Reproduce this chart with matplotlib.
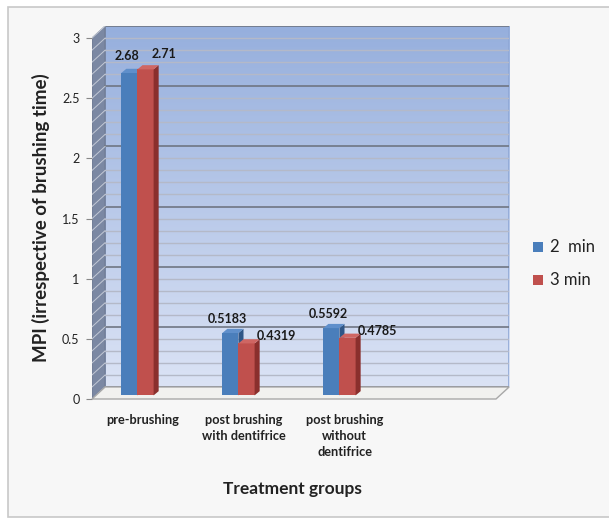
import numpy as np
import matplotlib
matplotlib.use("Agg")
import matplotlib.pyplot as plt
from matplotlib.patches import Polygon, Rectangle
from matplotlib.colors import LinearSegmentedColormap

plt.rcParams['font.family'] = ['Lato', 'DejaVu Sans']

# Data
categories = ["pre-brushing", "post brushing\nwith dentifrice", "post brushing\nwithout\ndentifrice"]
series_names = ["2  min", "3 min"]
values_2min = [2.68, 0.5183, 0.5592]
values_3min = [2.71, 0.4319, 0.4785]
value_labels_2min = ["2.68", "0.5183", "0.5592"]
value_labels_3min = ["2.71", "0.4319", "0.4785"]
yticks = [0, 0.5, 1, 1.5, 2, 2.5, 3]
yticklabels = ["0", "0.5", "1", "1.5", "2", "2.5", "3"]

# 3D look: offset of the back wall in data units
DX, DY = 0.13, 0.1
X0, X1 = -0.5, 3.5      # 4 category slots, last one empty
YMAX = 3.0

fig = plt.figure(figsize=(6.09, 5.19), dpi=100)
fig.patch.set_facecolor('white')

# outer frame of the chart area
fig.patches.append(Rectangle((8 / 609, 2 / 519), 610 / 609, 510 / 519, transform=fig.transFigure,
                             facecolor='#f7f7f7', edgecolor='#c8c8c8', linewidth=1.2, zorder=-10))

W, H = 609, 519
left_px, right_px = 92, 92 + (X1 + DX - X0) * 101
bot_px, top_px = 399, 399 - (YMAX + DY) * 120.3
ax = fig.add_axes([left_px / W, (H - bot_px) / H, (right_px - left_px) / W, (bot_px - top_px) / H])
ax.patch.set_visible(False)
for s in ax.spines.values():
    s.set_visible(False)

# back wall gradient
cmap = LinearSegmentedColormap.from_list('wall', ['#dbe3f5', '#96afdd'])
grad = np.linspace(0, 1, 256).reshape(-1, 1)
ax.imshow(grad, extent=(X0 + DX, X1 + DX, DY, YMAX + DY), origin='lower', aspect='auto',
          cmap=cmap, zorder=0)
ax.set_xlim(X0, X1 + DX)
ax.set_ylim(0, YMAX + DY)
ax.add_patch(Rectangle((X0 + DX, DY), X1 - X0, YMAX, facecolor='none', edgecolor='#8fa8d6',
                       linewidth=1.2, zorder=1))

# side wall
ax.add_patch(Polygon([(X0, 0), (X0, YMAX), (X0 + DX, YMAX + DY), (X0 + DX, DY)],
                     closed=True, facecolor='#7b88a3', edgecolor='#6d7890', linewidth=0.8, zorder=1))

# gridlines on back and side wall
for g in np.arange(0, YMAX + 0.001, 0.1):
    major = abs(g / 0.5 - round(g / 0.5)) < 1e-6
    col = '#6f7683' if major else '#b4b9c8'
    lw = 1.2 if major else 1.0
    ax.plot([X0 + DX, X1 + DX], [g + DY, g + DY], color=col, linewidth=lw, zorder=2)
    ax.plot([X0, X0 + DX], [g, g + DY], color='#c3c9d6', linewidth=0.7, zorder=2)

# floor
ax.add_patch(Polygon([(X0, 0), (X1, 0), (X1 + DX, DY), (X0 + DX, DY)], closed=True,
                     facecolor='#f1f1ef', edgecolor='#a8a8a8', linewidth=1.0, zorder=2,
                     clip_on=False))

# 3D bars
bw, bdx, bdy, base = 0.16, 0.05, 0.035, 0.03


def bar3d(xl, h, front, side, top):
    ax.add_patch(Rectangle((xl, base), bw, h, facecolor=front, edgecolor='none', zorder=5))
    ax.add_patch(Polygon([(xl + bw, base), (xl + bw + bdx, base + bdy), (xl + bw + bdx, base + h + bdy),
                          (xl + bw, base + h)], closed=True, facecolor=side, edgecolor='none', zorder=5))
    ax.add_patch(Polygon([(xl, base + h), (xl + bw, base + h), (xl + bw + bdx, base + h + bdy),
                          (xl + bdx, base + h + bdy)], closed=True, facecolor=top, edgecolor='none',
                         zorder=5))


x = np.arange(len(categories))
for i in range(len(categories)):
    bar3d(x[i] - 0.21, values_2min[i], '#4a7ebb', '#2f5687', '#5f8fcb')
    bar3d(x[i] - 0.05, values_3min[i], '#c0504d', '#8a2f2d', '#cf6663')

# value labels
lab_kw = dict(fontsize=9, fontweight='bold', color='#1a1a1a', zorder=6)
ax.text(x[0] - 0.15, values_2min[0] + 0.12, value_labels_2min[0], ha='center', va='bottom', **lab_kw)
ax.text(x[0] + 0.21, values_3min[0] + 0.11, value_labels_3min[0], ha='center', va='bottom', **lab_kw)
for i in (1, 2):
    ax.text(x[i] - 0.16, values_2min[i] + 0.1, value_labels_2min[i], ha='center', va='bottom', **lab_kw)
    ax.text(x[i] + 0.13, values_3min[i] + 0.09, value_labels_3min[i], ha='left', va='center', **lab_kw)

# axes ticks
ax.set_yticks(yticks)
ax.set_yticklabels(yticklabels, fontsize=9, color='#222222')
ax.tick_params(axis='y', direction='out', length=4.5, width=0.8, color='#888888', pad=4.5)
ax.set_xticks(x)
ax.set_xticklabels(categories, fontsize=9.2, fontweight='bold', color='#222222', linespacing=1.4)
ax.tick_params(axis='x', length=0, pad=11)

fig.text(41 / W, 1 - 218 / H, "MPI (irrespective of brushing time)", rotation=90, ha='center',
         va='center', fontsize=13.5, fontweight='bold', color='#222222')
fig.text(292 / W, 1 - 489 / H, "Treatment groups", ha='center', va='center', fontsize=12.5,
         fontweight='bold', color='#222222')

# legend
for name, col, yy in zip(series_names, ['#4a7ebb', '#c0504d'], [247, 280]):
    fig.patches.append(Rectangle((533 / W, 1 - (yy + 5) / H), 10 / W, 10 / H, transform=fig.transFigure,
                                 facecolor=col, edgecolor='none'))
    fig.text(550 / W, 1 - yy / H, name, ha='left', va='center', fontsize=12, color='#222222')

fig.savefig('out.png', dpi=100)
